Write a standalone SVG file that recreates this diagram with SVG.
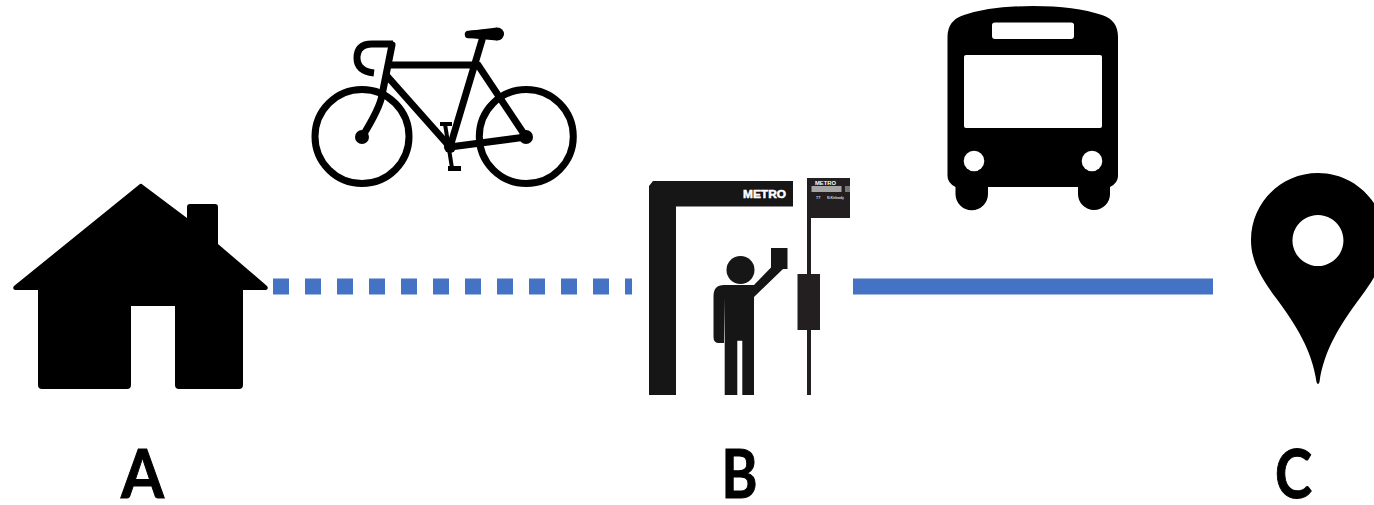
<svg xmlns="http://www.w3.org/2000/svg" width="1374" height="505" viewBox="0 0 1374 505">
<style>
.lbl{font-family:"Lato","Open Sans","Liberation Sans",sans-serif;font-weight:700;font-size:66px;fill:#000;stroke:#000;stroke-width:1;text-anchor:middle}
.bk{fill:none;stroke:#000;stroke-width:7;stroke-linecap:round;stroke-linejoin:round}
.bt{stroke-linecap:butt}
.sd{stroke-width:7.500}
.s{fill:#161616}
.p{fill:#231f20}
.m{font-family:"Liberation Sans",sans-serif;font-weight:700;fill:#fff}
</style>
<rect width="1374" height="505" fill="#fff"/>
<g id="connectors">
<line x1="273" y1="286.500" x2="632" y2="286.500" stroke="#4472c4" stroke-width="16" stroke-dasharray="16 16"/>
<line x1="853" y1="286.500" x2="1213" y2="286.500" stroke="#4472c4" stroke-width="16"/>
</g>
<g id="house">
<path d="M140 184Q141 183 143 185L187 218V207Q187 204 190 204H215Q218 204 218 207V244L267 286Q269 289 266 290H243V385Q243 389 239 389H179Q175 389 175 385V306H131V385Q131 389 127 389H42Q38 389 38 385V290H15Q12 289 14 286Z"/>
</g>
<g id="bicycle">
<circle class="bk" cx="362" cy="136.500" r="47"/>
<circle class="bk" cx="526.300" cy="136.500" r="47"/>
<circle cx="362" cy="137" r="7"/>
<circle cx="526" cy="137" r="7"/>
<circle cx="450" cy="147" r="6"/>
<path class="bk" d="M390 65H478M482 40L450 147L387 76M478 65L526 137L450 147"/>
<path class="bk" d="M392 45L382 95Q380 108 362 137"/>
<path class="bk bt" d="M393 44H372Q357 44 357 58Q357 71 374 73"/>
<path class="bk sd" d="M468.500 34.500L490 33"/>
<circle cx="497.500" cy="34" r="6.500"/>
<path d="M468 31L497 27.500V40.500L468 38Z"/>
<path d="M445 124L452 168" stroke="#000" stroke-width="4" fill="none"/>
<path d="M440 122H452V126H440ZM448 166H461V171H448Z"/>
</g>
<g id="stop">
<path class="s" d="M649 186L653 181H793V206.500H676V395H649Z"/>
<text class="m" x="743" y="198" font-size="11" textLength="43" lengthAdjust="spacingAndGlyphs" stroke="#fff" stroke-width=".5">METRO</text>
<circle class="s" cx="740.500" cy="270" r="14"/>
<path class="s" d="M754 285L771 267.500V248H787.500V269H783L754 297V395H742.300V340.700H737.300V395H724.700V297.500L724 343H719Q713.500 343 713.500 337V296Q713.500 285 724 285Z"/>
<path class="p" d="M807 178H850V218H811V274H820V330H811V395H807V330H797.500V274H807Z"/>
<rect x="811.500" y="186" width="30" height="6" fill="#a5a5a5"/>
<rect x="845" y="186" width="5" height="6" fill="#777"/>
<text class="m" x="815" y="184.500" font-size="4.500" textLength="21" lengthAdjust="spacingAndGlyphs">METRO</text>
<text class="m" x="816" y="198.500" font-size="4" opacity=".8">77</text>
<text class="m" x="827" y="198.500" font-size="3.500" textLength="17" lengthAdjust="spacingAndGlyphs" opacity=".8">N.Kirkwdy</text>
</g>
<g id="bus">
<path fill-rule="evenodd" d="M1033 6Q1075 6 1102 15Q1118 20 1118 37V176Q1118 183 1110 187V194A16 16 0 0 1 1078 194V187H988V194A16 16 0 0 1 955.500 194V187Q947.500 183 947.500 176V37Q947.500 20 964 15Q991 6 1033 6ZM995 22.500Q992 22.500 992 25V36Q992 39 995 39H1071Q1074 39 1074 36V25Q1074 22.500 1071 22.500ZM966 55Q964 55 964 57V126Q964 128 966 128H1100Q1102 128 1102 126V57Q1102 55 1100 55Z"/>
<circle cx="974" cy="161" r="10.300" fill="#fff"/>
<circle cx="1092" cy="161" r="10.300" fill="#fff"/>
</g>
<g id="pin">
<path fill-rule="evenodd" d="M1318 173C1281 173 1251 203 1251 240C1251 262 1262 279 1276 298C1296 325 1312 350 1316.500 382Q1318 386 1319.500 382C1324 350 1340 325 1360 298C1374 279 1385 262 1385 240C1385 203 1355 173 1318 173ZM1318 215A25.500 25.500 0 1 1 1317.900 215Z"/>
</g>
<text class="lbl" x="142.500" y="497.500" textLength="43" lengthAdjust="spacingAndGlyphs">A</text>
<text class="lbl" x="739.500" y="497.500" textLength="36" lengthAdjust="spacingAndGlyphs">B</text>
<text class="lbl" x="1293.500" y="497.500" textLength="37" lengthAdjust="spacingAndGlyphs">C</text>
</svg>
